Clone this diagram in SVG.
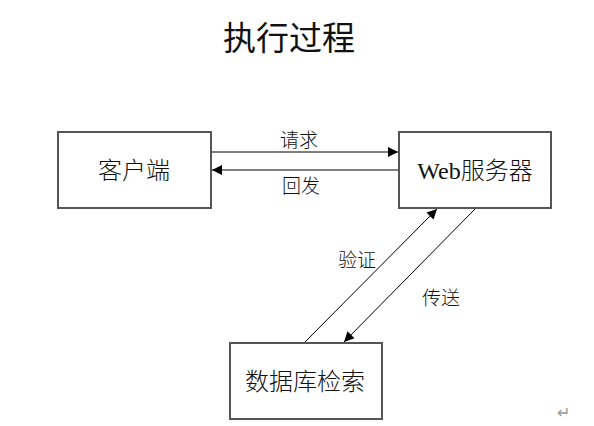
<svg xmlns="http://www.w3.org/2000/svg" width="594" height="426" viewBox="0 0 594 426">
<style>
.box{fill:#fff;stroke:#555;stroke-width:2}
.ln{stroke:#000;stroke-width:1;fill:none}
.t{font-family:"Liberation Serif","Noto Sans CJK SC",serif;fill:#111;text-anchor:middle;font-weight:300}
.node{font-size:24px}
.lbl{font-size:19px}
</style>
<defs>
<marker id="ah" viewBox="0 0 10 10" refX="10" refY="5" markerWidth="10" markerHeight="10" markerUnits="userSpaceOnUse" orient="auto">
<path d="M0,0 L10,5 L0,10 z" fill="#000"/>
</marker>
</defs>
<rect width="594" height="426" fill="#fff"/>
<text class="t" x="289" y="50" font-size="33" style="font-weight:400">执行过程</text>
<g id="client"><rect class="box" x="58" y="132" width="153" height="76"/><text class="t node" x="134" y="179">客户端</text></g>
<g id="web"><rect class="box" x="399" y="132" width="152" height="76"/><text class="t node" x="475" y="179">Web服务器</text></g>
<g id="db"><rect class="box" x="230" y="343" width="152" height="76"/><text class="t node" x="305" y="390">数据库检索</text></g>
<g id="connectors">
<line class="ln" x1="212" y1="152" x2="398" y2="152" marker-end="url(#ah)"/>
<line class="ln" x1="398" y1="170" x2="212" y2="170" marker-end="url(#ah)"/>
<line class="ln" x1="305" y1="342" x2="437" y2="209" marker-end="url(#ah)"/>
<line class="ln" x1="475" y1="209" x2="344" y2="342" marker-end="url(#ah)"/>
<text class="t lbl" x="299" y="147">请求</text>
<text class="t lbl" x="301" y="193">回发</text>
<text class="t lbl" x="357" y="267">验证</text>
<text class="t lbl" x="441" y="305">传送</text>
</g>
<text x="563" y="418" font-family="Liberation Sans,sans-serif" font-size="16" fill="#999" text-anchor="middle">↵</text>
</svg>
